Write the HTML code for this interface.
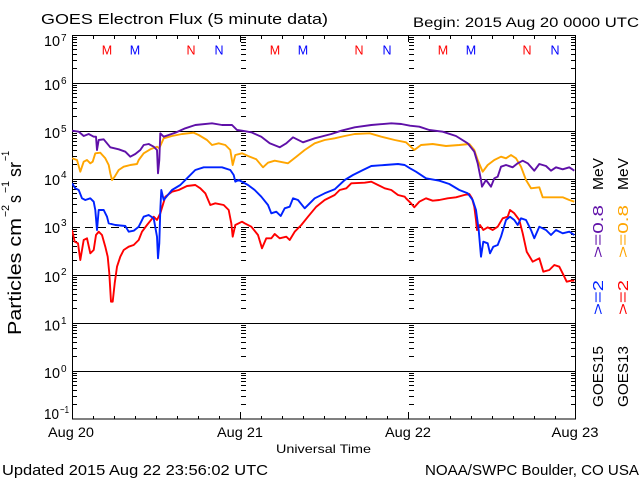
<!DOCTYPE html>
<html><head><meta charset="utf-8"><style>
html,body{margin:0;padding:0;background:#fff;width:640px;height:480px;overflow:hidden}
svg{display:block}
text{font-family:"Liberation Sans",sans-serif;fill:#000}
</style></head><body>
<svg width="640" height="480" viewBox="0 0 640 480" xmlns="http://www.w3.org/2000/svg">
<defs>
<path id="mt" d="M0,68.5h5M0,60.5h5M0,54.5h5M0,49.5h5M0,45.5h5M0,42.5h5M0,39.5h5M0,37.5h5
M0,116.5h5M0,108.5h5M0,102.5h5M0,97.5h5M0,93.5h5M0,90.5h5M0,87.5h5M0,85.5h5
M0,164.5h5M0,156.5h5M0,150.5h5M0,145.5h5M0,141.5h5M0,138.5h5M0,135.5h5M0,133.5h5
M0,212.5h5M0,204.5h5M0,198.5h5M0,193.5h5M0,189.5h5M0,186.5h5M0,183.5h5M0,181.5h5
M0,260.5h5M0,252.5h5M0,246.5h5M0,241.5h5M0,237.5h5M0,234.5h5M0,231.5h5M0,229.5h5
M0,308.5h5M0,300.5h5M0,294.5h5M0,289.5h5M0,285.5h5M0,282.5h5M0,279.5h5M0,277.5h5
M0,356.5h5M0,348.5h5M0,342.5h5M0,337.5h5M0,333.5h5M0,330.5h5M0,327.5h5M0,325.5h5
M0,404.5h5M0,396.5h5M0,390.5h5M0,385.5h5M0,381.5h5M0,378.5h5M0,375.5h5M0,373.5h5" stroke="#000" stroke-width="1" fill="none"/>
<clipPath id="pc"><rect x="72" y="35" width="504" height="384"/></clipPath>
</defs>

<text x="41" y="24" font-size="15" textLength="287" lengthAdjust="spacingAndGlyphs">GOES Electron Flux (5 minute data)</text>
<text x="413" y="27" font-size="13.5" textLength="226" lengthAdjust="spacingAndGlyphs">Begin: 2015 Aug 20 0000 UTC</text>

<g stroke="#000" stroke-width="1" shape-rendering="crispEdges" fill="none">
<path d="M72,83.5H576M72,131.5H576M72,179.5H576M72,275.5H576M72,323.5H576M72,371.5H576"/>
<path d="M72,227.5H576" stroke-dasharray="8,5"/>
<rect x="72.5" y="35.5" width="503" height="383.5"/>
<path d="M93.5,419v-3M114.5,419v-3M135.5,419v-3M156.5,419v-3M177.5,419v-3M198.5,419v-3M219.5,419v-3M240.5,419v-7
M261.5,419v-3M282.5,419v-3M303.5,419v-3M324.5,419v-3M345.5,419v-3M366.5,419v-3M387.5,419v-3M408.5,419v-7
M429.5,419v-3M450.5,419v-3M471.5,419v-3M492.5,419v-3M513.5,419v-3M534.5,419v-3M555.5,419v-3"/>
<path d="M93.5,35v4M114.5,35v4M135.5,35v4M156.5,35v4M177.5,35v4M198.5,35v4M219.5,35v4M240.5,35v7
M261.5,35v4M282.5,35v4M303.5,35v4M324.5,35v4M345.5,35v4M366.5,35v4M387.5,35v4M408.5,35v7
M429.5,35v4M450.5,35v4M471.5,35v4M492.5,35v4M513.5,35v4M534.5,35v4M555.5,35v4"/>
</g>
<g shape-rendering="crispEdges">
<use href="#mt" x="72"/>
<use href="#mt" x="241"/>
<use href="#mt" x="409"/>
<use href="#mt" x="571"/>
</g>

<g font-size="12.5" text-anchor="middle">
<text x="107" y="54.5" style="fill:#ff0000">M</text>
<text x="135" y="54.5" style="fill:#0000ff">M</text>
<text x="191" y="54.5" style="fill:#ff0000">N</text>
<text x="219" y="54.5" style="fill:#0000ff">N</text>
<text x="275" y="54.5" style="fill:#ff0000">M</text>
<text x="303" y="54.5" style="fill:#0000ff">M</text>
<text x="359" y="54.5" style="fill:#ff0000">N</text>
<text x="387" y="54.5" style="fill:#0000ff">N</text>
<text x="443" y="54.5" style="fill:#ff0000">M</text>
<text x="471" y="54.5" style="fill:#0000ff">M</text>
<text x="527" y="54.5" style="fill:#ff0000">N</text>
<text x="555" y="54.5" style="fill:#0000ff">N</text>
</g>

<g clip-path="url(#pc)" fill="none" stroke-width="1.9" stroke-linejoin="round">
<polyline stroke="#ffa500" points="72,158.3 77,160 80.3,171.7 83.7,161.7 87,160 90.3,163.3 92.7,161.7 95.3,153.3 100.3,152.7 105.3,158.3 108.7,165 110.3,173.3 112,180 114.7,176.7 118.7,170 123.7,166.7 130.3,165 137,164 138.7,160 143.7,153.3 150.3,149.3 157,146.7 159.3,148.3 163.7,138.3 172,136 182,134 193.7,132.7 198.7,135 207,140 212,145 218.7,143.3 225.3,145 230.3,150 232.7,165 235.3,155 242,153.3 248,156 256.3,159.3 263,167.3 268,162.7 274.7,160.7 288,163.3 296.3,156.7 304.7,150 314.7,143.3 324.7,140 334.7,138.3 344.7,136 354.7,134 369.7,133.3 381.3,136.7 394.7,140 406,142.3 414.3,150 421,145 432.7,144 446,146 459.3,145 469.3,144 474.3,150 477.7,160 482.7,171.7 487.7,165 494.3,160 501,156.7 506,158.3 511,155 516,158.3 521,166.7 526,180 531,188.3 539.3,187.3 542.7,197.3 552.7,197.3 562.7,197.3 569.3,200 574.3,201.7"/>
<polyline stroke="#5f10a8" points="72,130.7 78.7,131.7 83.7,136 88.7,134 93.7,136.7 96,136.7 97,150 98.7,140 103.7,139.3 107,143.3 110.3,147.3 118.7,149.3 125.3,151.7 130.3,156.7 135.3,154 140.3,150 143.7,145 148.7,144 153.7,146.7 157,150 158,173.3 159.3,160 160.3,133.3 163.7,136.7 168.7,135 175.3,132.7 185.3,128.3 195.3,125 212,123.3 222,125 232,125 237,130 242,130.7 251.3,132.3 261.3,136.7 269.7,143.3 279.7,147.3 286.3,143.3 293,137.3 303,142.3 314.7,138.3 331.3,134 341.3,130.7 354.7,127.3 371.3,125 391.3,123.3 401.3,124 410,125.7 419.3,126.7 429.3,130 442.7,131.7 456,136 467.7,143.3 474.3,151.7 477.7,163.3 481,180 482,186.7 486,180 491,186.7 494.3,178.3 497.7,176.7 501,166.7 506,165 512.7,167.3 517.7,163.3 522.7,160.7 527.7,163.3 534.3,170.7 539.3,164 546,166 551,170.7 556,167.3 562.7,169.3 569.3,167.3 574.3,170.7"/>
<polyline stroke="#ff0000" points="72,230 74.7,241.7 78,243.3 80.3,260 83.7,240 87,238.3 90.3,253.3 93.7,250 96,235 98.7,231.7 102,235 105.3,246.7 107.7,256.7 109.3,273.3 111,301.7 112.7,301.7 114.7,283.3 117,266.7 120.3,256.7 123.7,250 128.7,246.7 133.7,245 138.7,240 142,231.7 147,225 153.7,216.7 157,220 160.3,213.3 165.3,196.7 172,191.7 178.7,190 187,186 195.3,185 200.3,188.3 205.3,193.3 210.3,205 215.3,203.3 223.7,205 228.7,210 231.3,223.3 232.7,236.7 235.3,225 242,221.7 244.7,223.3 251.3,226.7 258,235 262,248.3 266.3,238.3 271.3,238.3 274.7,234 279.7,238.3 286.3,236.7 289.7,240 294.7,231.7 301.3,225 308,216.7 316.3,206.7 324.7,200 334.7,195 339.7,190 346.3,188.3 351.3,183.3 364.7,182.7 371.3,181.7 378,185 384.7,188.3 391.3,190 398,195 404.7,196.7 406,198.3 411,203.3 414.3,207.3 419.3,201.7 426,198.3 432.7,200.7 439.3,200 447.7,198.3 456,197.3 464.3,195 469.3,194 472,198.3 474.3,206.7 476,220 477,230 480,225 483.3,230 487.7,227.3 492.7,230 497.7,226.7 502.7,218.3 507.7,216.7 510,210 514.3,213.3 519.3,220 522.7,233.3 526.7,251.7 532.7,261.7 539.3,258.3 543.3,271.7 549.3,270 554.3,265 559.3,266.7 564.3,276.7 566.7,281.7 571,280.7 574.3,280.7"/>
<polyline stroke="#0022ff" points="72,183.3 75.3,188.3 78.7,190 82,198.3 85.3,200 90.3,198.3 93.7,201.7 95.3,210 97,230 98.7,210 103.7,210 107,216.7 108.7,223.3 115.3,225 125.3,226 128.7,231.7 133.7,230.7 138.7,226.7 143.7,216.7 148.7,215 153.7,218.3 157,236.7 158,258.3 159.3,243.3 160.3,210 161.3,190 163.7,200 172,190 180.3,185 187,178.3 195.3,170 203.7,167.3 212,167.3 222,167.3 230.3,170 233.7,175 235.3,181.7 238.7,180 248,185 254.7,190 261.3,196.7 268,205 271.3,213.3 276.3,211.7 280.7,216 284.7,208.3 289.7,206.7 293,198.3 298,200 304.7,208.3 314.7,198.3 324.7,193.3 334.7,189.3 344.7,180 353,175 363,170 371.3,166 384.7,165 398,164 404.7,165 410,168.3 416,171.7 426,178.3 439.3,180.7 449.3,184 459.3,190 467.7,193.3 472.7,200 476,210 478.7,230 481,256.7 483.3,241.7 487.7,243.3 490,253.3 493.3,246.7 497.7,245 501,236.7 506,220 510,216.7 514.3,220 517.7,225 521,218.3 526,220 531,230 534.3,238.3 539.3,226.7 546,230 551,235 556,230 562.7,233.3 569.3,231.7 574.3,235"/>
</g>

<g font-size="15">
<text x="44" y="46" textLength="16" lengthAdjust="spacingAndGlyphs">10</text><text x="61" y="41" font-size="10">7</text>
<text x="44" y="90" textLength="16" lengthAdjust="spacingAndGlyphs">10</text><text x="61" y="84" font-size="10">6</text>
<text x="44" y="138" textLength="16" lengthAdjust="spacingAndGlyphs">10</text><text x="61" y="132" font-size="10">5</text>
<text x="44" y="185" textLength="16" lengthAdjust="spacingAndGlyphs">10</text><text x="61" y="178" font-size="10">4</text>
<text x="44" y="233" textLength="16" lengthAdjust="spacingAndGlyphs">10</text><text x="61" y="226" font-size="10">3</text>
<text x="44" y="282" textLength="16" lengthAdjust="spacingAndGlyphs">10</text><text x="61" y="275" font-size="10">2</text>
<text x="44" y="330.5" textLength="16" lengthAdjust="spacingAndGlyphs">10</text><text x="61" y="324" font-size="10">1</text>
<text x="44" y="378" textLength="16" lengthAdjust="spacingAndGlyphs">10</text><text x="61" y="372" font-size="10">0</text>
<text x="44" y="419" textLength="15" lengthAdjust="spacingAndGlyphs">10</text><text x="60" y="413" font-size="10" textLength="9" lengthAdjust="spacingAndGlyphs">−1</text>
</g>

<g font-size="14" text-anchor="middle">
<text x="71" y="437" textLength="46" lengthAdjust="spacingAndGlyphs">Aug 20</text>
<text x="240" y="437" textLength="46" lengthAdjust="spacingAndGlyphs">Aug 21</text>
<text x="408" y="437" textLength="46" lengthAdjust="spacingAndGlyphs">Aug 22</text>
<text x="575" y="437" textLength="47" lengthAdjust="spacingAndGlyphs">Aug 23</text>
</g>
<text x="276" y="453" font-size="12" textLength="95" lengthAdjust="spacingAndGlyphs">Universal Time</text>
<text x="2" y="475" font-size="15" textLength="266" lengthAdjust="spacingAndGlyphs">Updated 2015 Aug 22 23:56:02 UTC</text>
<text x="425" y="475" font-size="15" textLength="214" lengthAdjust="spacingAndGlyphs">NOAA/SWPC Boulder, CO USA</text>

<g transform="translate(21,335) rotate(-90)">
<text x="0" y="0" font-size="18" textLength="117" lengthAdjust="spacingAndGlyphs">Particles cm</text>
<text x="118" y="-12" font-size="11" textLength="12" lengthAdjust="spacingAndGlyphs">−2</text>
<text x="132" y="0" font-size="18" textLength="8" lengthAdjust="spacingAndGlyphs">s</text>
<text x="142" y="-12" font-size="11" textLength="12" lengthAdjust="spacingAndGlyphs">−1</text>
<text x="158" y="0" font-size="18" textLength="15" lengthAdjust="spacingAndGlyphs">sr</text>
<text x="174" y="-12" font-size="11" textLength="10" lengthAdjust="spacingAndGlyphs">−1</text>
</g>

<g font-size="15">
<g transform="translate(603,0) rotate(-90)">
<text x="-407" y="0" textLength="61" lengthAdjust="spacingAndGlyphs">GOES15</text>
<text x="-315" y="0" textLength="35" lengthAdjust="spacingAndGlyphs" style="fill:#0022ff">&gt;=2</text>
<text x="-258" y="0" textLength="53" lengthAdjust="spacingAndGlyphs" style="fill:#5f10a8">&gt;=0.8</text>
<text x="-190" y="0" textLength="32" lengthAdjust="spacingAndGlyphs">MeV</text>
</g>
<g transform="translate(628,0) rotate(-90)">
<text x="-407" y="0" textLength="61" lengthAdjust="spacingAndGlyphs">GOES13</text>
<text x="-315" y="0" textLength="35" lengthAdjust="spacingAndGlyphs" style="fill:#ff0000">&gt;=2</text>
<text x="-258" y="0" textLength="53" lengthAdjust="spacingAndGlyphs" style="fill:#ffa500">&gt;=0.8</text>
<text x="-190" y="0" textLength="32" lengthAdjust="spacingAndGlyphs">MeV</text>
</g>
</g>
</svg>
</body></html>
